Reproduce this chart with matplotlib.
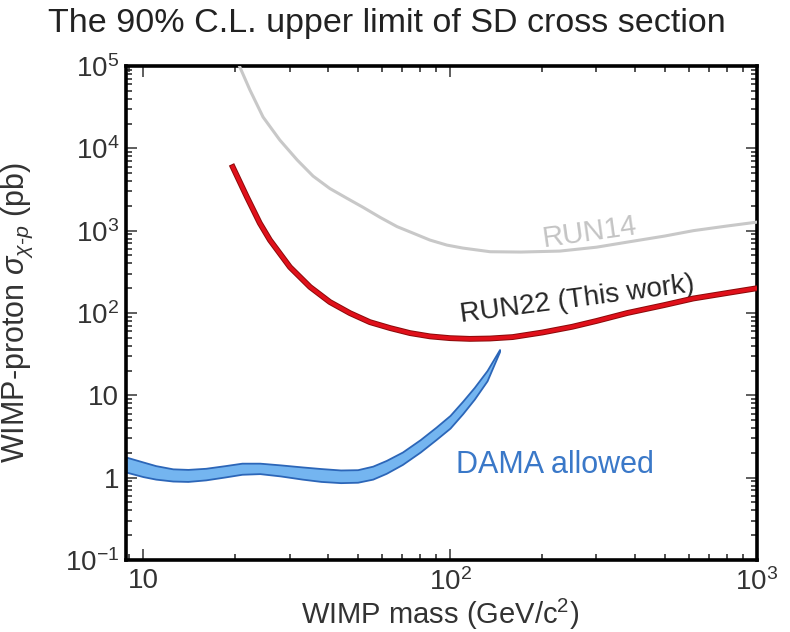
import matplotlib
matplotlib.use("Agg")
import matplotlib.pyplot as plt
import matplotlib.patheffects as pe
from matplotlib.ticker import FixedLocator, FixedFormatter, LogLocator, NullFormatter

plt.rcParams['font.family'] = ['Liberation Sans', 'DejaVu Sans']
plt.rcParams['mathtext.fontset'] = 'custom'
plt.rcParams['mathtext.rm'] = 'Liberation Sans'
plt.rcParams['mathtext.it'] = 'Liberation Sans:italic'
plt.rcParams['mathtext.bf'] = 'Liberation Sans:bold'

# RUN14 limit (grey)
run14_mass = [20.6, 22.3, 24.6, 27.9, 31.8, 35.8, 40.6, 46.1, 52.1, 59.2, 67.2, 75.7, 86, 97.7,
              110, 135, 170, 228, 300, 378, 500, 620, 800, 1000]
run14_sigma = [1.0e5, 51000, 24000, 12600, 7200, 4600, 3250, 2480, 1920, 1450, 1120, 935, 769, 668,
               615, 555, 550, 565, 630, 726, 860, 1000, 1140, 1270]

# RUN22 limit (this work, red)
run22_mass = [19.6, 21.8, 24.0, 25.9, 30.1, 35.0, 40.6, 47.2, 54.8, 63.8, 74.1, 86.1, 100, 116,
              135, 160, 200, 250, 300, 378, 500, 620, 800, 1000]
run22_sigma = [5930, 2560, 1237, 769, 361, 207, 136, 99.7, 77.5, 65.6, 57, 52, 49.5, 48.5,
               49, 51, 58, 68, 80, 100, 125, 150, 175, 200]

# DAMA allowed region
dama_mass = [8.8, 10, 11, 12.5, 14, 16, 18.5, 21, 24, 28, 33, 38, 44, 50, 56, 62, 70, 80, 90, 100, 110, 120, 132, 145]
dama_hi = [1.78, 1.55, 1.40, 1.28, 1.26, 1.30, 1.40, 1.50, 1.50, 1.43, 1.35, 1.29, 1.24, 1.25, 1.38, 1.62, 2.05, 2.9, 4.1, 5.7, 8.5, 12.5, 20, 36]
dama_lo = [1.17, 1.03, 0.96, 0.91, 0.90, 0.94, 1.02, 1.10, 1.12, 1.05, 0.96, 0.90, 0.87, 0.88, 0.96, 1.13, 1.45, 2.05, 2.9, 4.0, 6.0, 9.0, 15, 34]

xticks = [10, 100, 1000]
xlabels = ['10', r'$10^{2}$', r'$10^{3}$']
yticks = [0.1, 1, 10, 100, 1e3, 1e4, 1e5]
ylabels = [r'$10^{-1}$', '1', '10', r'$10^{2}$', r'$10^{3}$', r'$10^{4}$', r'$10^{5}$']

fig = plt.figure(figsize=(7.9, 6.32), dpi=100)
ax = fig.add_axes([126/790, 1-560/632, 631/790, 494/632])
ax.set_xscale('log')
ax.set_yscale('log')
ax.set_xlim(8.8, 1000)
ax.set_ylim(0.1, 1e5)

ax.fill_between(dama_mass, dama_lo, dama_hi, facecolor='#74b5f0', edgecolor='#2c66b8', linewidth=1.3, zorder=2)
ax.plot(run14_mass, run14_sigma, color='#c8c8c8', lw=2.2, zorder=3, solid_joinstyle='round')
ax.plot(run22_mass, run22_sigma, color='#e0101a', lw=2.8, zorder=4, solid_joinstyle='round',
        path_effects=[pe.Stroke(linewidth=4.2, foreground='#8a0a0a'), pe.Normal()])

ax.text(286, 960, 'RUN14', color='#c4c4c4', fontsize=21, rotation=8,
        ha='center', va='center')
ax.text(260, 144, 'RUN22 (This work)', color='#262626', fontsize=20, rotation=7.5,
        ha='center', va='center')
ax.text(220, 1.42, 'DAMA allowed', color='#3a78c8', fontsize=22,
        ha='center', va='center')

ax.xaxis.set_major_locator(FixedLocator(xticks))
ax.xaxis.set_major_formatter(FixedFormatter(xlabels))
ax.yaxis.set_major_locator(FixedLocator(yticks))
ax.yaxis.set_major_formatter(FixedFormatter(ylabels))
ax.xaxis.set_minor_locator(LogLocator(base=10, subs=range(2, 10), numticks=20))
ax.yaxis.set_minor_locator(LogLocator(base=10, subs=range(2, 10), numticks=20))
ax.xaxis.set_minor_formatter(NullFormatter())
ax.yaxis.set_minor_formatter(NullFormatter())

ax.tick_params(which='both', direction='in', top=True, right=True, width=1.1, color='#222222')
ax.tick_params(which='major', length=8, labelsize=20, colors='#333333')
ax.tick_params(which='minor', length=4.5)
ax.tick_params(axis='x', which='major', pad=6)
ax.tick_params(axis='y', which='major', pad=5)
for s in ax.spines.values():
    s.set_linewidth(2.6)

ax.set_xlabel(r'WIMP mass (GeV/c$^{2}$)', fontsize=21, color='#333333')
ax.xaxis.set_label_coords(0.498, -0.075)
ax.set_ylabel(r'WIMP-proton $\sigma_{\chi\text{-}p}$ (pb)', fontsize=22, color='#333333')
ax.yaxis.set_label_coords(-0.145, 0.5)

fig.text(0.49, 0.963, 'The 90% C.L. upper limit of SD cross section', fontsize=24.5,
         ha='center', va='center', color='#222222')

fig.savefig('out.png', dpi=100)
